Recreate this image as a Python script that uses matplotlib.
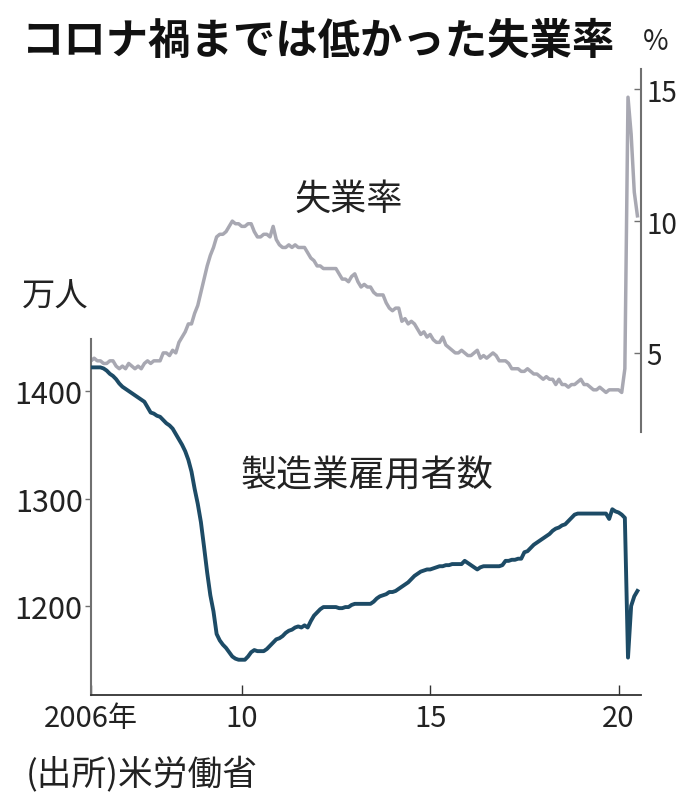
import numpy as np
import matplotlib
matplotlib.use('Agg')
import matplotlib.pyplot as plt

plt.rcParams['font.family'] = ['Noto Sans CJK JP', 'DejaVu Sans']

# monthly values, Jan 2006 - Jul 2020
start_year = 2006
jobless_rate = [
    4.7, 4.8, 4.7, 4.7, 4.6, 4.6, 4.7, 4.7, 4.5, 4.4, 4.5, 4.4,  # 2006
    4.6, 4.5, 4.4, 4.5, 4.4, 4.6, 4.7, 4.6, 4.7, 4.7, 4.7, 5.0,  # 2007
    5.0, 4.9, 5.1, 5.0, 5.4, 5.6, 5.8, 6.1, 6.1, 6.5, 6.8, 7.3,  # 2008
    7.8, 8.3, 8.7, 9.0, 9.4, 9.5, 9.5, 9.6, 9.8, 10.0, 9.9, 9.9,  # 2009
    9.8, 9.8, 9.9, 9.9, 9.6, 9.4, 9.4, 9.5, 9.5, 9.4, 9.8, 9.3,  # 2010
    9.1, 9.0, 9.0, 9.1, 9.0, 9.1, 9.0, 9.0, 9.0, 8.8, 8.6, 8.5,  # 2011
    8.3, 8.3, 8.2, 8.2, 8.2, 8.2, 8.2, 8.0, 7.8, 7.8, 7.7, 7.9,  # 2012
    8.0, 7.7, 7.5, 7.6, 7.5, 7.5, 7.3, 7.2, 7.2, 7.2, 6.9, 6.7,  # 2013
    6.6, 6.7, 6.7, 6.2, 6.3, 6.1, 6.2, 6.1, 5.9, 5.7, 5.8, 5.6,  # 2014
    5.7, 5.5, 5.4, 5.4, 5.6, 5.3, 5.2, 5.1, 5.0, 5.0, 5.1, 5.0,  # 2015
    4.9, 4.9, 5.0, 5.1, 4.8, 4.9, 4.8, 4.9, 5.0, 4.9, 4.7, 4.7,  # 2016
    4.7, 4.6, 4.4, 4.4, 4.4, 4.3, 4.3, 4.4, 4.3, 4.2, 4.2, 4.1,  # 2017
    4.0, 4.1, 4.0, 4.0, 3.8, 4.0, 3.8, 3.8, 3.7, 3.8, 3.8, 3.9,  # 2018
    4.0, 3.8, 3.8, 3.7, 3.6, 3.6, 3.7, 3.6, 3.5, 3.6, 3.6, 3.6,  # 2019
    3.6, 3.5, 4.4, 14.7, 13.3, 11.1, 10.2,                       # 2020
]
mfg_jobs = [
    1422, 1422, 1422, 1422, 1421, 1419, 1416, 1414, 1411, 1407, 1404, 1402,  # 2006
    1400, 1398, 1396, 1394, 1392, 1390, 1385, 1380, 1379, 1377, 1376, 1373,  # 2007
    1370, 1368, 1365, 1360, 1355, 1350, 1344, 1336, 1325, 1309, 1295, 1278,  # 2008
    1255, 1231, 1210, 1195, 1174, 1168, 1164, 1161, 1157, 1153, 1151, 1150,  # 2009
    1150, 1150, 1153, 1157, 1159, 1158, 1158, 1158, 1160, 1163, 1166, 1169,  # 2010
    1170, 1172, 1175, 1177, 1178, 1180, 1181, 1180, 1182, 1180, 1186, 1191,  # 2011
    1194, 1197, 1199, 1199, 1199, 1199, 1199, 1198, 1198, 1199, 1199, 1201,  # 2012
    1202, 1202, 1202, 1202, 1202, 1202, 1204, 1207, 1209, 1210, 1211, 1213,  # 2013
    1213, 1214, 1216, 1218, 1220, 1222, 1225, 1228, 1230, 1232, 1233, 1234,  # 2014
    1234, 1235, 1236, 1237, 1237, 1238, 1238, 1239, 1239, 1239, 1239, 1242,  # 2015
    1240, 1238, 1236, 1234, 1236, 1237, 1237, 1237, 1237, 1237, 1237, 1238,  # 2016
    1242, 1242, 1243, 1243, 1244, 1244, 1250, 1251, 1254, 1257, 1259, 1261,  # 2017
    1263, 1265, 1267, 1270, 1272, 1273, 1275, 1276, 1279, 1282, 1285, 1286,  # 2018
    1286, 1286, 1286, 1286, 1286, 1286, 1286, 1286, 1286, 1281, 1290, 1288,  # 2019
    1287, 1285, 1282, 1152, 1200, 1209, 1214,                                # 2020
]
year_ticks = [2006, 2010, 2015, 2020]
year_labels = ['2006年', '10', '15', '20']
rate_ticks = [5, 10, 15]
jobs_ticks = [1200, 1300, 1400]

t_rate = start_year + np.arange(len(jobless_rate)) / 12.0
t_jobs = start_year + np.arange(len(mfg_jobs)) / 12.0

W, H = 680, 812
fig = plt.figure(figsize=(W / 100, H / 100), dpi=100)

def box(x0, y0, x1, y1):
    return [x0 / W, 1 - y1 / H, (x1 - x0) / W, (y1 - y0) / H]

xmin, xmax = 2006.0, 2020.595
ink = '#222222'
axis_gray = '#707070'

# manufacturing employment (left)
ax1 = fig.add_axes(box(91, 340, 641, 696))
ax1.plot(t_jobs, mfg_jobs, color='#1d4b66', lw=2.8, solid_joinstyle='round', zorder=3)
ax1.set_xlim(xmin, xmax)
ax1.set_ylim(1117.2, 1448.4)
ax1.set_yticks(jobs_ticks)
ax1.set_xticks(year_ticks)
ax1.set_xticklabels(year_labels)
for s in ['top', 'right']:
    ax1.spines[s].set_visible(False)
ax1.spines['left'].set_color(axis_gray)
ax1.spines['left'].set_linewidth(1.5)
ax1.spines['bottom'].set_color('#333333')
ax1.spines['bottom'].set_linewidth(1.3)
ax1.tick_params(axis='y', direction='out', length=4, width=1, color=axis_gray,
                labelsize=22, labelcolor=ink, pad=2)
ax1.tick_params(axis='x', direction='in', length=7, width=1, color='#333333',
                labelsize=21, labelcolor=ink, pad=6)
ax1.patch.set_visible(False)

# unemployment rate (right)
ax2 = fig.add_axes(box(91, 70, 641, 433))
ax2.plot(t_rate, jobless_rate, color='#a8a8b2', lw=2.5, solid_joinstyle='round', zorder=2)
ax2.set_xlim(xmin, xmax)
ax2.set_ylim(2.0, 15.77)
ax2.set_xticks([])
ax2.yaxis.tick_right()
ax2.set_yticks(rate_ticks)
for s in ['top', 'left', 'bottom']:
    ax2.spines[s].set_visible(False)
ax2.spines['right'].set_color(axis_gray)
ax2.spines['right'].set_linewidth(1.5)
ax2.tick_params(axis='y', direction='in', length=5, width=1, color=axis_gray,
                labelsize=20, labelcolor=ink, pad=4)
ax2.patch.set_visible(False)
ax1.set_zorder(2)

# texts
fig.text(22 / W, 1 - 42 / H, 'コロナ禍までは低かった失業率', fontsize=30.5,
         fontweight='bold', color='#111111', ha='left', va='center')
fig.text(656 / W, 1 - 42 / H, '%', fontsize=20, color=ink, ha='center', va='center')
fig.text(22 / W, 1 - 297 / H, '万人', fontsize=24, color=ink, ha='left', va='center')
fig.text(349 / W, 1 - 200 / H, '失業率', fontsize=26, color=ink, ha='center', va='center')
fig.text(367 / W, 1 - 477 / H, '製造業雇用者数', fontsize=26, color=ink, ha='center', va='center')
fig.text(26 / W, 1 - 775 / H, '(出所)米労働省', fontsize=25, color=ink, ha='left', va='center')

fig.savefig('out.png', dpi=100)
